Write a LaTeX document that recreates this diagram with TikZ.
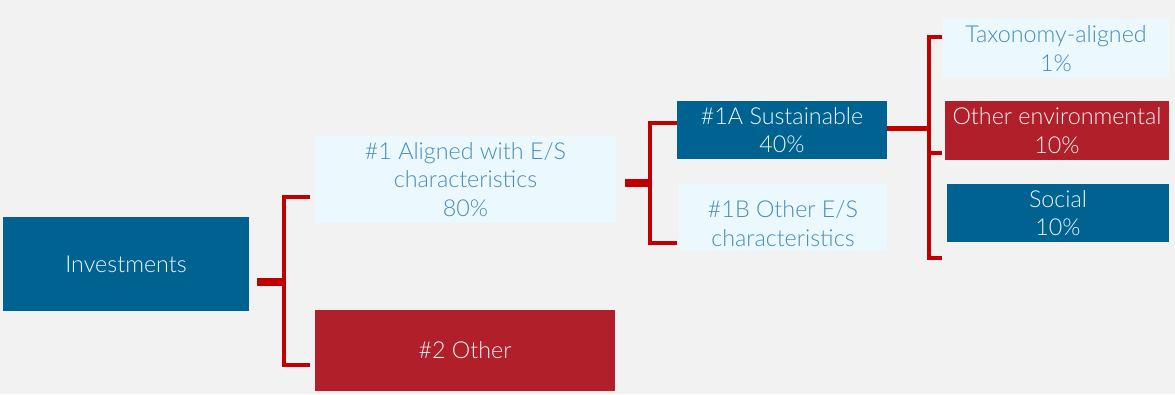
\documentclass[tikz,border=0pt]{standalone}
\usepackage{fontspec}
\setmainfont{Lato}[UprightFont=* Light]
\usetikzlibrary{positioning,calc}
\definecolor{bggrey}{RGB}{242,242,242}
\definecolor{invblue}{RGB}{0,98,145}
\definecolor{invred}{RGB}{176,31,42}
\definecolor{paleblue}{RGB}{235,248,253}
\definecolor{softblue}{RGB}{70,140,180}
\definecolor{boxtext}{RGB}{238,246,250}
\definecolor{linered}{RGB}{192,0,0}

\begin{document}
\begin{tikzpicture}[
  x=1pt, y=-1pt,
  every node/.style={font=\fontsize{23.3}{28.5}\selectfont, align=center, inner sep=0pt},
  darkbox/.style={fill=invblue, text=boxtext},
  redbox/.style={fill=invred, text=boxtext},
  lightbox/.style={fill=paleblue, text=softblue},
  stub/.style={draw=linered, line width=8pt},
  thinstub/.style={draw=linered, line width=5pt},
  branch/.style={draw=linered, line width=3.5pt}
]
\fill[bggrey] (0,0) rectangle (1175,394);
\useasboundingbox (0,0) rectangle (1175,394);

% boxes
\node[darkbox, minimum width=246pt, minimum height=94pt] (inv) at (126,264) {Investments};
\node[lightbox, minimum width=301pt, minimum height=87pt] (al) at (465.5,179.5) {\#1 Aligned with E/S\\characteristics\\80\%};
\node[redbox, minimum width=300pt, minimum height=81pt] (oth) at (465,350.5) {\#2 Other};
\node[darkbox, minimum width=210pt, minimum height=58pt] (sus) at (782,130) {\#1A Sustainable\\40\%};
\node[lightbox, minimum width=208pt, minimum height=67pt] (oes) at (783,217.5) {\rule{0pt}{29pt}\#1B Other E/S\\characteristics};
\node[lightbox, minimum width=226pt, minimum height=59pt] (tax) at (1056,48.5) {Taxonomy-aligned\\1\%};
\node[redbox, minimum width=224pt, minimum height=59pt] (env) at (1057,130.5) {Other environmental\\10\%};
\node[darkbox, minimum width=222pt, minimum height=58pt] (soc) at (1058,213) {Social\\10\%};

% connectors
\coordinate (s1) at (257,282);
\coordinate (j1) at (284,282);
\draw[stub] (s1) -- (j1);
\draw[branch] ($(al.west)+(-5,17.5)$) -| (j1) |- ($(oth.west)+(-5,14.5)$);

\coordinate (s2) at (625,183);
\coordinate (j2) at (650,183);
\draw[stub] (s2) -- (j2);
\draw[branch] ($(sus.west)+(0,-7)$) -| (j2) |- ($(oes.west)+(-2,25.5)$);

\coordinate (j3) at (929,128);
\draw[thinstub] (sus.east |- j3) -- (j3);
\draw[branch] ($(tax.west)+(-1,-11.5)$) -| (j3) |- ($(soc.west)+(-5,45)$);
\coordinate (e3) at ($(env.west)+(-3,22.5)$);
\draw[branch] (e3) -- (e3 -| j3);
\end{tikzpicture}
\end{document}
